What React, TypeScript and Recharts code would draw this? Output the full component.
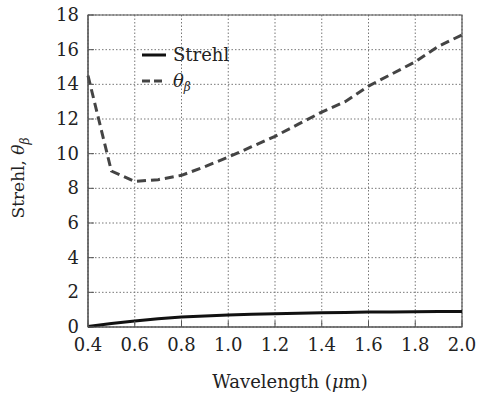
import React from 'react';
import { LineChart, Line, XAxis, YAxis, CartesianGrid, ReferenceArea } from 'recharts';

const wavelengths = [0.4, 0.5, 0.6, 0.7, 0.8, 0.9, 1.0, 1.1, 1.2, 1.3, 1.4, 1.5, 1.6, 1.7, 1.8, 1.9, 2.0];
const strehl = [0.03, 0.2, 0.35, 0.47, 0.57, 0.63, 0.69, 0.73, 0.76, 0.8, 0.82, 0.84, 0.86, 0.87, 0.88, 0.89, 0.9];
const thetaBeta = [14.5, 9.0, 8.4, 8.5, 8.75, 9.25, 9.8, 10.4, 11.0, 11.7, 12.4, 13.0, 13.9, 14.6, 15.3, 16.2, 16.85];
const xTicks = [0.4, 0.6, 0.8, 1.0, 1.2, 1.4, 1.6, 1.8, 2.0];
const yTicks = [0, 2, 4, 6, 8, 10, 12, 14, 16, 18];

const data = wavelengths.map((w, i) => ({ w, strehl: strehl[i], theta: thetaBeta[i] }));

const FONT = '"DejaVu Serif", serif';
const AXIS = '#555';

const XTick = (props: any) => {
  const { x, y, payload } = props;
  return (
    <g>
      <line x1={x} x2={x} y1={y} y2={y - 6} stroke={AXIS} strokeWidth={1} />
      <text x={x} y={y + 24} textAnchor="middle" fontFamily={FONT} fontSize={18} fill="#222">
        {payload.value.toFixed(1)}
      </text>
    </g>
  );
};

const YTick = (props: any) => {
  const { x, y, payload } = props;
  return (
    <g>
      <line x1={x} x2={x + 6} y1={y} y2={y} stroke={AXIS} strokeWidth={1} />
      <text x={x - 9} y={y + 6} textAnchor="end" fontFamily={FONT} fontSize={18} fill="#222">
        {payload.value}
      </text>
    </g>
  );
};

const XLabel = () => (
  <text x={290} y={388} textAnchor="middle" fontFamily={FONT} fontSize={18} fill="#222">
    Wavelength (<tspan fontStyle="italic">μ</tspan>m)
  </text>
);

const YLabel = () => (
  <text
    transform="translate(24, 178) rotate(-90)"
    textAnchor="middle"
    fontFamily={FONT}
    fontSize={17}
    fill="#222"
  >
    Strehl, <tspan fontStyle="italic">θ</tspan>
    <tspan fontStyle="italic" fontSize={12} dy={5}>β</tspan>
  </text>
);

const LegendBox = () => (
  <div
    style={{
      position: 'absolute',
      left: 142,
      top: 42,
      fontFamily: FONT,
      fontSize: 18,
      color: '#222',
      lineHeight: '26px',
    }}
  >
    <div style={{ display: 'flex', alignItems: 'center' }}>
      <svg width={26} height={10} style={{ marginRight: 5 }}>
        <line x1={0} x2={24} y1={5} y2={5} stroke="#111" strokeWidth={3} />
      </svg>
      Strehl
    </div>
    <div style={{ display: 'flex', alignItems: 'center' }}>
      <svg width={26} height={10} style={{ marginRight: 5 }}>
        <line x1={0} x2={24} y1={5} y2={5} stroke="#444" strokeWidth={3} strokeDasharray="8 4" />
      </svg>
      <i>θ</i>
      <i style={{ fontSize: 12, position: 'relative', top: 6 }}>β</i>
    </div>
  </div>
);

export default function App() {
  return (
    <div style={{ position: 'absolute', left: 0, top: 0, width: 480, height: 394, background: '#fff' }}>
      <LineChart width={480} height={394} data={data} margin={{ top: 15, right: 18, bottom: 0, left: 0 }}>
        <CartesianGrid stroke="#777" strokeDasharray="1.5 2" />
        <XAxis
          dataKey="w"
          type="number"
          domain={[0.4, 2.0]}
          ticks={xTicks}
          height={67}
          stroke={AXIS}
          tickLine={false}
          tickSize={0}
          tickMargin={0}
          tick={<XTick />}
          label={<XLabel />}
        />
        <YAxis
          type="number"
          domain={[0, 18]}
          ticks={yTicks}
          width={88}
          stroke={AXIS}
          tickLine={false}
          tickSize={0}
          tickMargin={0}
          tick={<YTick />}
          label={<YLabel />}
        />
        <ReferenceArea x1={0.4} x2={2.0} y1={0} y2={18} fill="none" stroke={AXIS} strokeWidth={1.2} />
        <Line dataKey="strehl" stroke="#111" strokeWidth={3} dot={false} isAnimationActive={false} />
        <Line
          dataKey="theta"
          stroke="#444"
          strokeWidth={3}
          strokeDasharray="9 5"
          dot={false}
          isAnimationActive={false}
        />
      </LineChart>
      <LegendBox />
    </div>
  );
}
